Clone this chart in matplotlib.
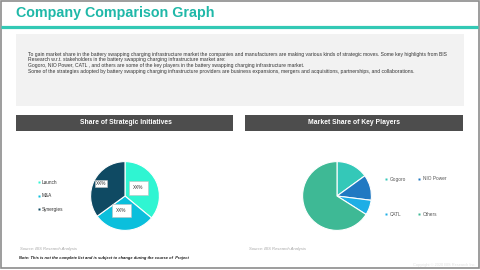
import matplotlib.pyplot as plt
from matplotlib.patches import Rectangle
import numpy as np

plt.rcParams['font.family'] = ['Liberation Sans', 'DejaVu Sans']

# data
initiatives = ['Launch', 'M&A', 'Synergies']
initiative_share = [36, 29, 35]
initiative_labels = ['XX%', 'XX%', 'XX%']
initiative_colors = ['#2ff5d2', '#0bbfdc', '#0f4a63']

players = ['Gogoro', 'NIO Power', 'CATL', 'Others']
player_share = [15, 12, 7, 66]
player_colors = ['#34c8b8', '#2179c2', '#1daee6', '#3eb995']

body = [
    "To gain market share in the battery swapping charging infrastructure market the companies and manufacturers are making various kinds of strategic moves. Some key highlights from BIS",
    "Research w.r.t. stakeholders in the battery swapping charging infrastructure market are:",
    "Gogoro, NIO Power, CATL , and others are some of the key players in the battery swapping charging infrastructure market.",
    "Some of the strategies adopted by battery swapping charging infrastructure providers are business expansions, mergers and acquisitions, partnerships, and collaborations.",
]

W, H = 480, 270
fig = plt.figure(figsize=(4.8, 2.7), dpi=100)
fig.patch.set_facecolor('white')

# background axes in pixel coords
bg = fig.add_axes([0, 0, 1, 1])
bg.set_xlim(0, W)
bg.set_ylim(H, 0)
bg.axis('off')

bg.add_patch(Rectangle((0.5, 0.5), 478, 267.5, fill=False, ec='#8c8c8c', lw=1.2))
bg.text(16, 13, 'Company Comparison Graph', color='#1fb8a8', fontsize=10.3,
        fontweight='bold', va='center', ha='left')
bg.plot([1, 478], [27, 27], color='#33c9b5', lw=2.3, solid_capstyle='butt')

bg.add_patch(Rectangle((16, 34), 448, 72, fc='#f2f2f2', ec='none'))
for i, line in enumerate(body):
    bg.text(28, 54.5 + i * 5.5, line, fontsize=3.65, color='#333333', va='center')

# header bars
bg.add_patch(Rectangle((16, 115), 217, 16, fc='#4d4d4d', ec='none'))
bg.text(125.5, 123, 'Share of Strategic Initiatives', color='white', fontsize=4.9,
        fontweight='bold', ha='center', va='center')
bg.add_patch(Rectangle((245, 115), 218, 16, fc='#4d4d4d', ec='none'))
bg.text(354, 123, 'Market Share of Key Players', color='white', fontsize=4.9,
        fontweight='bold', ha='center', va='center')

# footers
bg.text(20, 249, 'Source: BIS Research Analysis', fontsize=3.0, style='italic',
        color='#a6a6a6', va='center')
bg.text(19, 257.5, 'Note: This is not the complete list and is subject to change during the course of  Project',
        fontsize=2.9, style='italic', fontweight='bold', color='#111111', va='center')
bg.text(249, 249, 'Source: BIS Research Analysis', fontsize=3.0, style='italic',
        color='#a6a6a6', va='center')
bg.text(476, 265, 'Copyright © 2020 BIS Research Inc.', fontsize=2.8,
        color='#e0e0e0', ha='right', va='center')

# left legend
for i, (name, c) in enumerate(zip(initiatives, initiative_colors)):
    y = 182 + i * 13.5
    bg.plot(39, y, marker='s', ms=1.6, color=c, mec='none')
    bg.text(41.5, y, name, fontsize=3.4, color='#333333', va='center')

# right legend (2x2)
for i, (name, c) in enumerate(zip(players, player_colors)):
    x = 386 + (i % 2) * 33
    y = 179 + (i // 2) * 35
    bg.plot(x, y, marker='s', ms=1.6, color=c, mec='none')
    bg.text(x + 4, y, name, fontsize=3.4, color='#555555', va='center')


def pie_axes(cx, cy, r):
    ax = fig.add_axes([(cx - r) / W, 1 - (cy + r) / H, 2 * r / W, 2 * r / H])
    ax.set_xlim(-1, 1)
    ax.set_ylim(-1, 1)
    ax.axis('off')
    return ax


ax1 = pie_axes(125, 196, 43)
wedges, _ = ax1.pie(initiative_share, colors=initiative_colors, startangle=90,
                    counterclock=False, radius=1,
                    wedgeprops=dict(edgecolor='white', linewidth=0.8))
label_dist = [0.46, 0.44, 0.78]
label_shift = [6, -13, 0]
for w, lab, d, s in zip(wedges, initiative_labels, label_dist, label_shift):
    ang = np.deg2rad((w.theta1 + w.theta2) / 2 + s)
    pad = 0.9 if d < 0.7 else 0.25
    ax1.text(d * np.cos(ang), d * np.sin(ang), lab, fontsize=3.4, color='#333333',
             ha='center', va='center',
             bbox=dict(boxstyle='square,pad=%s' % pad, fc='white', ec='#bfbfbf', lw=0.4))

ax2 = pie_axes(337, 196, 43)
ax2.pie(player_share, colors=player_colors, startangle=90, counterclock=False,
        radius=1, wedgeprops=dict(edgecolor='white', linewidth=0.8))

fig.savefig('out.png', dpi=100)
